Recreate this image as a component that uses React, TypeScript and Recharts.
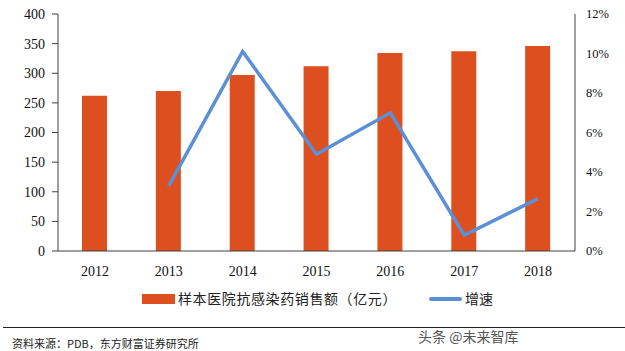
import React from "react";
import {
  ComposedChart,
  Bar,
  Line,
  XAxis,
  YAxis,
} from "recharts";

const years = ["2012", "2013", "2014", "2015", "2016", "2017", "2018"];
const sales = [262, 270, 297, 312, 334, 337, 346];
const growth = [null, 3.3, 10.1, 4.9, 7.0, 0.8, 2.65];
const leftTicks = [0, 50, 100, 150, 200, 250, 300, 350, 400];
const rightTicks = [0, 2, 4, 6, 8, 10, 12];

const data = years.map((year, i) => ({ year, sales: sales[i], growth: growth[i] }));

const BAR = "#DE4F1F";
const LINE = "#5B8FD6";
const AXIS = "#404040";
const serif = "'Liberation Serif', 'Times New Roman', serif";
const cjk = "'Noto Sans CJK SC', sans-serif";

function LegendBox() {
  return (
    <div style={{ position: "absolute", left: 0, top: 294, width: 625, height: 20, fontFamily: cjk, fontSize: 14, color: "#222" }}>
      <div style={{ position: "absolute", left: 142, top: 0, width: 33, height: 10, background: BAR }} />
      <span style={{ position: "absolute", left: 178, top: -6, letterSpacing: 0.6, whiteSpace: "nowrap" }}>
        样本医院抗感染药销售额（亿元）
      </span>
      <div style={{ position: "absolute", left: 429, top: 3, width: 33, height: 4, borderRadius: 2, background: LINE }} />
      <span style={{ position: "absolute", left: 465, top: -6 }}>增速</span>
    </div>
  );
}

export default function App() {
  return (
    <div style={{ position: "absolute", left: 0, top: 0, width: 625, height: 351, background: "#fff" }}>
      <ComposedChart
        width={625}
        height={351}
        data={data}
        margin={{ top: 14, right: 0, left: 0, bottom: 70 }}
      >
        <XAxis
          dataKey="year"
          height={30}
          tickLine={false}
          axisLine={{ stroke: AXIS }}
          tick={{ fontFamily: serif, fontSize: 14, fill: "#111" }}
          tickMargin={9}
        />
        <XAxis
          xAxisId="grid"
          type="number"
          domain={[0, 7]}
          ticks={[1, 2, 3, 4, 5, 6]}
          mirror
          tick={false}
          axisLine={false}
          tickSize={5}
          tickLine={{ stroke: AXIS }}
          height={0}
        />
        <YAxis
          yAxisId="left"
          width={58}
          domain={[0, 400]}
          ticks={leftTicks}
          interval={0}
          axisLine={{ stroke: AXIS }}
          tickLine={{ stroke: AXIS }}
          tickSize={6}
          tickMargin={7}
          tick={{ fontFamily: serif, fontSize: 14, fill: "#111" }}
        />
        <YAxis
          yAxisId="right"
          orientation="right"
          width={50}
          domain={[0, 12]}
          ticks={rightTicks}
          interval={0}
          axisLine={{ stroke: AXIS }}
          tickLine={false}
          tickSize={0}
          tickMargin={11}
          tickFormatter={(v: number) => `${v}%`}
          tick={{ fontFamily: serif, fontSize: 12.5, fill: "#111", textAnchor: "start" }}
        />
        <YAxis
          yAxisId="rightTicks"
          orientation="right"
          mirror
          domain={[0, 12]}
          ticks={rightTicks}
          interval={0}
          tick={false}
          axisLine={false}
          tickSize={4}
          tickLine={{ stroke: AXIS }}
          width={0}
        />
        <Bar
          yAxisId="left"
          dataKey="sales"
          fill={BAR}
          barSize={25}
          isAnimationActive={false}
        />
        <Line
          yAxisId="right"
          dataKey="growth"
          stroke={LINE}
          strokeWidth={3.5}
          dot={false}
          activeDot={false}
          connectNulls={false}
          isAnimationActive={false}
        />
      </ComposedChart>
      <LegendBox />
      <div style={{ position: "absolute", left: 3, right: 0, top: 327, height: 1, background: "#222" }} />
      <div
        style={{
          position: "absolute",
          left: 12,
          top: 335,
          fontFamily: cjk,
          fontSize: 11,
          color: "#222",
          whiteSpace: "nowrap",
        }}
      >
        资料来源：PDB，东方财富证券研究所
      </div>
      <div
        style={{
          position: "absolute",
          left: 418,
          top: 326,
          fontFamily: cjk,
          fontSize: 14,
          color: "#555",
          whiteSpace: "nowrap",
        }}
      >
        头条 @未来智库
      </div>
    </div>
  );
}
